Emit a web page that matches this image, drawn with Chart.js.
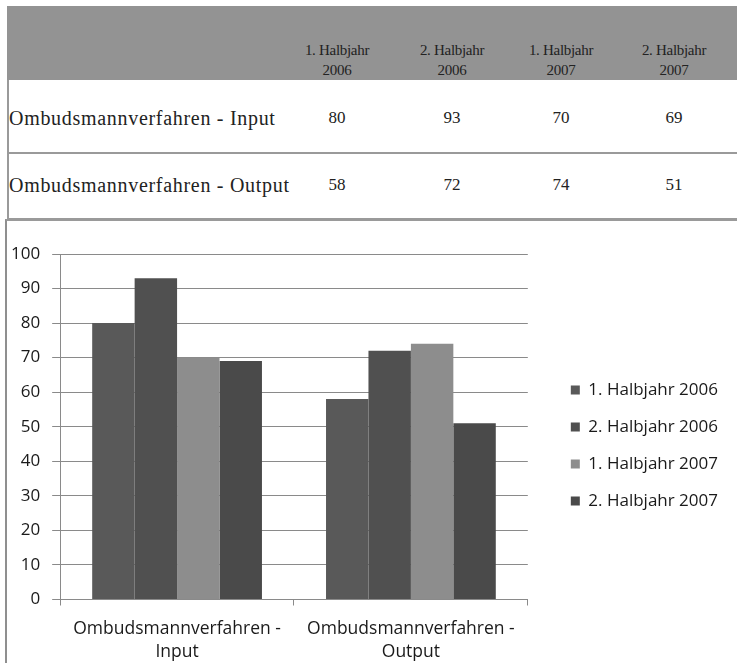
<!DOCTYPE html>
<html>
<head>
<meta charset="utf-8">
<script src="https://cdn.jsdelivr.net/npm/chart.js@4.4.1/dist/chart.umd.min.js"></script>
<style>
  html, body { margin: 0; padding: 0; background: #fff; overflow: hidden; }
  body { width: 737px; height: 663px; position: relative; font-family: "Liberation Serif", serif; color: #222; }
  #table { position: absolute; left: 0; top: 0; width: 737px; height: 221px; }
  .head { position: absolute; left: 7px; top: 6px; width: 730px; height: 74px; background: #939393; }
  .lborder { position: absolute; left: 7px; top: 80px; width: 2px; height: 140px; background: #9a9a9a; }
  .hline { position: absolute; left: 7px; width: 730px; height: 2px; background: #9a9a9a; }
  .cell { position: absolute; text-align: center; width: 110px; }
  .hcell { font-size: 15px; letter-spacing: -0.3px; line-height: 20px; top: 40px; }
  .vcell { font-size: 17px; line-height: 20px; }
  .rlabel { position: absolute; left: 9px; font-size: 20px; letter-spacing: 0.7px; line-height: 24px; white-space: nowrap; }
  #frame { position: absolute; left: 5px; top: 219px; width: 730px; height: 442px; border-left: 2px solid #8f8f8f; border-top: 2px solid #9a9a9a; }
  canvas { display: block; }
</style>
</head>
<body>
<div id="table"></div>
<div id="frame"><canvas id="chart" width="730" height="442"></canvas></div>
<script>
// data
const categories = ['Ombudsmannverfahren - Input', 'Ombudsmannverfahren - Output'];
const categoryLines = [['Ombudsmannverfahren -', 'Input'], ['Ombudsmannverfahren -', 'Output']];
const seriesNames = ['1. Halbjahr 2006', '2. Halbjahr 2006', '1. Halbjahr 2007', '2. Halbjahr 2007'];
const h1_2006 = [80, 58];
const h2_2006 = [93, 72];
const h1_2007 = [70, 74];
const h2_2007 = [69, 51];
const yTicks = [0, 10, 20, 30, 40, 50, 60, 70, 80, 90, 100];

const seriesValues = [h1_2006, h2_2006, h1_2007, h2_2007];
const barColors = ['#595959', '#505050', '#8d8d8d', '#4a4a4a'];

// table above the chart
function buildTable() {
  const t = document.getElementById('table');
  const colCenters = [337, 452, 561, 674];
  let html = '<div class="head"></div><div class="lborder"></div>';
  html += '<div class="hline" style="top:152px"></div><div class="hline" style="top:218px"></div>';
  seriesNames.forEach((name, i) => {
    const parts = name.split(' ');
    html += '<div class="cell hcell" style="left:' + (colCenters[i] - 55) + 'px">' +
      parts[0] + ' ' + parts[1] + '<br>' + parts[2] + '</div>';
  });
  const rowTops = [107, 174];
  categories.forEach((cat, r) => {
    html += '<div class="rlabel" style="top:' + (rowTops[r] - 1) + 'px">' + cat + '</div>';
    seriesValues.forEach((vals, i) => {
      html += '<div class="cell vcell" style="left:' + (colCenters[i] - 55) + 'px;top:' + (rowTops[r] + 1) + 'px">' + vals[r] + '</div>';
    });
  });
  t.innerHTML = html;
}

// keep a gap between plot and legend, and move the legend a bit up
const LEGEND_EXTRA_W = 32;
const LEGEND_SHIFT_X = 23;
const LEGEND_SHIFT_Y = 19;
const legendGap = {
  id: 'legendGap',
  beforeLayout(chart) {
    const lg = chart.legend;
    if (lg && !lg._gapPatched) {
      const fit = lg.fit.bind(lg);
      lg.fit = function () { fit(); this.width += LEGEND_EXTRA_W; };
      lg._gapPatched = true;
    }
  },
  afterLayout(chart) {
    const lg = chart.legend;
    if (!lg) return;
    lg.left += LEGEND_SHIFT_X;
    lg.top -= LEGEND_SHIFT_Y;
    lg.bottom -= LEGEND_SHIFT_Y;
  }
};

function buildChart() {
  const ctx = document.getElementById('chart').getContext('2d');
  new Chart(ctx, {
    type: 'bar',
    data: {
      labels: categoryLines,
      datasets: seriesNames.map((name, i) => ({
        label: name,
        data: seriesValues[i],
        backgroundColor: barColors[i],
        borderWidth: 0,
        barPercentage: 1,
        categoryPercentage: 0.726
      }))
    },
    options: {
      responsive: false,
      animation: false,
      layout: { padding: { left: -8, top: 33, right: 0, bottom: -12 } },
      plugins: {
        legend: {
          position: 'right',
          align: 'center',
          labels: {
            boxWidth: 9, boxHeight: 9, padding: 20,
            color: '#1a1a1a',
            font: { family: 'Open Sans', size: 17 }
          }
        },
        tooltip: { enabled: false }
      },
      scales: {
        x: {
          grid: { drawOnChartArea: false, tickLength: 6, color: '#8a8a8a' },
          border: { color: '#8a8a8a' },
          ticks: {
            color: '#1a1a1a', padding: 12, maxRotation: 0,
            font: { family: 'Open Sans', size: 17.5, lineHeight: 1.3 }
          }
        },
        y: {
          min: 0, max: 100,
          afterBuildTicks(scale) { scale.ticks = yTicks.map(v => ({ value: v })); },
          grid: { color: '#8a8a8a', tickLength: 8 },
          border: { color: '#8a8a8a' },
          ticks: {
            color: '#1a1a1a', padding: 12,
            font: { family: 'Open Sans', size: 17 }
          }
        }
      }
    },
    plugins: [legendGap]
  });
}

buildTable();
buildChart();
</script>
</body>
</html>
